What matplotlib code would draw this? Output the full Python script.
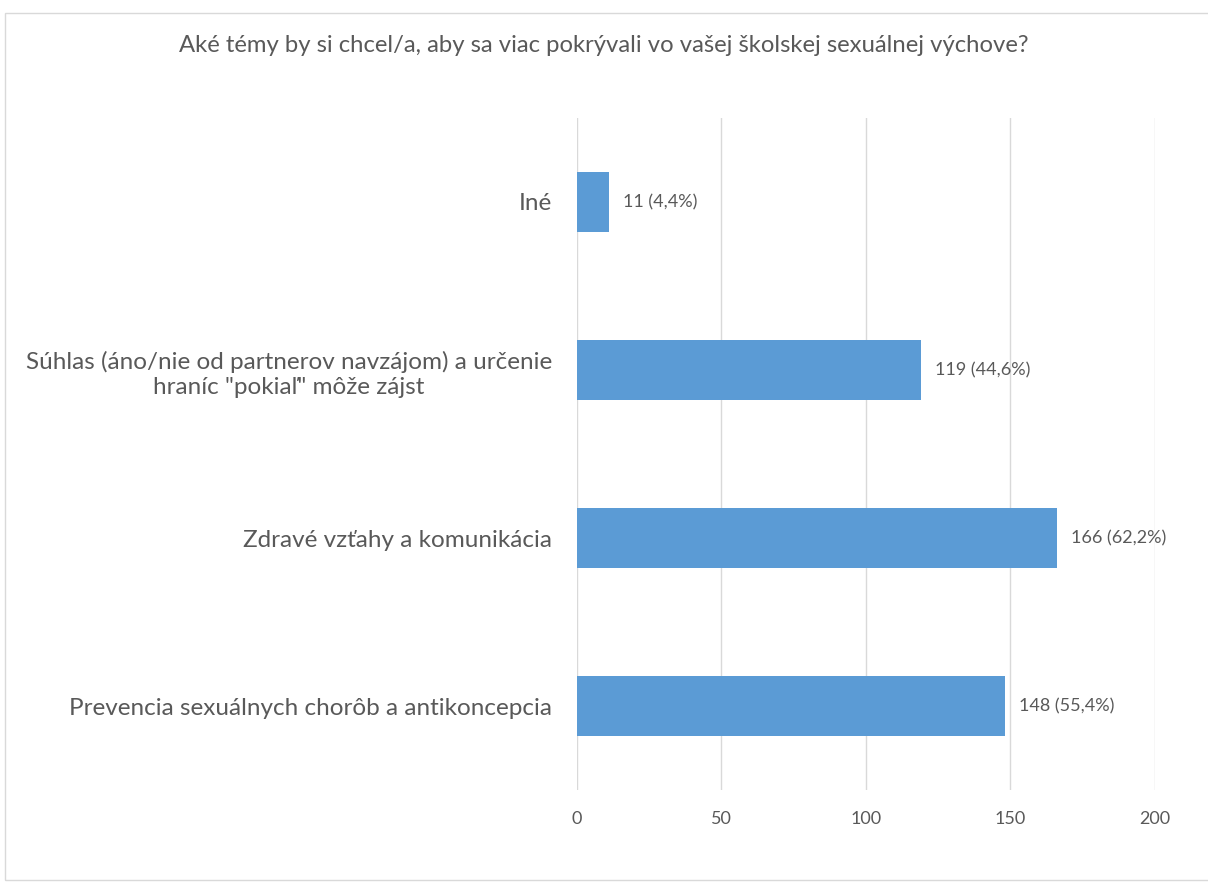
import numpy as np
import matplotlib.pyplot as plt
from matplotlib.patches import Rectangle

plt.rcParams['font.family'] = ['Lato', 'DejaVu Sans']

categories = ['Prevencia sexuálnych chorôb a antikoncepcia',
              'Zdravé vzťahy a komunikácia',
              'Súhlas (áno/nie od partnerov navzájom) a určenie\nhraníc "pokiaľ" môže zájst',
              'Iné']
counts = [148, 166, 119, 11]
percents = ['55,4%', '62,2%', '44,6%', '4,4%']
title = 'Aké témy by si chcel/a, aby sa viac pokrývali vo vašej školskej sexuálnej výchove?'

grey = '#595959'

fig = plt.figure(figsize=(12.08, 8.83), dpi=100)
ax = fig.add_axes([0.4776, 0.1053, 0.4785, 0.7611])

y = np.arange(len(categories))
ax.barh(y, counts, height=0.36, color='#5B9BD5', zorder=2)

for yi, c, p in zip(y, counts, percents):
    ax.annotate(f'{c} ({p})', (c, yi), xytext=(10, 0), textcoords='offset points',
                va='center', ha='left', fontsize=13, color=grey)

ax.set_xlim(0, 200)
ax.set_ylim(-0.5, 3.5)
ax.set_xticks([0, 50, 100, 150, 200])
ax.set_yticks(y)
ax.set_yticklabels(categories, linespacing=1.25)
plt.setp(ax.get_yticklabels(), multialignment='center')
ax.tick_params(axis='y', length=0, pad=18, labelsize=17.5, labelcolor=grey)
ax.tick_params(axis='x', length=0, pad=15, labelsize=13, labelcolor=grey)
ax.grid(axis='x', color='#D9D9D9', linewidth=1, zorder=0)
for s in ax.spines.values():
    s.set_visible(False)

fig.text(0.5, 0.948, title, ha='center', va='center', fontsize=17.2, color=grey)

# chart border
fig.patches.append(Rectangle((0.004, 0.003), 1.2, 0.982, transform=fig.transFigure,
                             fill=False, edgecolor='#D9D9D9', linewidth=1))

plt.savefig('out.png', dpi=100)
